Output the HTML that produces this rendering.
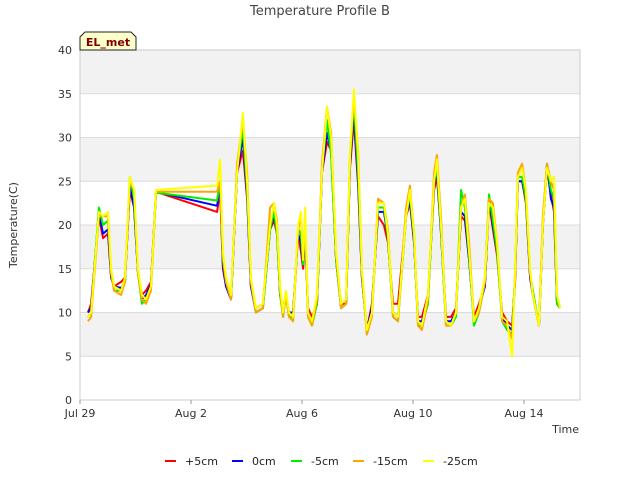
<!DOCTYPE html>
<html><head><meta charset="utf-8">
<style>
body{margin:0;background:#fff;}
svg{display:block;font-family:"DejaVu Sans","Liberation Sans",sans-serif;}
</style></head>
<body>
<svg id="chart" width="640" height="480" viewBox="0 0 640 480" xmlns="http://www.w3.org/2000/svg">
<text x="320" y="15" text-anchor="middle" font-size="13" fill="#444">Temperature Profile B</text>
<g id="bands"></g>
<g id="grid"></g>
<g id="yticks"></g>
<g id="xticks"></g>
<g id="series"></g>
<text transform="translate(17,225) rotate(-90)" text-anchor="middle" font-size="11" fill="#333">Temperature(C)</text>
<text x="579" y="433" text-anchor="end" font-size="11" fill="#333">Time</text>
<g>
<polygon points="80,50 80,37 85,32 131,32 136,37 136,50" fill="#ffffcc" stroke="#222" stroke-width="1"/>
<text x="108" y="46" text-anchor="middle" font-size="11" font-weight="bold" fill="#800000">EL_met</text>
</g>
<g id="legend"></g>
</svg>
<script>
const times = [0.29,0.40,0.68,0.83,1.01,1.12,1.23,1.48, 1.62,1.80,1.95,2.09,2.23,2.38,2.56,2.74, 4.94,5.05,5.15,5.26,5.44,5.66,5.87,6.02, 6.16,6.34,6.59,6.85,6.99,7.10,7.21,7.32, 7.42,7.53,7.68,7.86,7.96,8.04,8.11,8.22, 8.36,8.54,8.72,8.90,9.05,9.23,9.41,9.59, 9.73,9.87,10.02,10.16,10.34,10.52,10.74,10.95, 11.10,11.28,11.46,11.75,11.89,12.04,12.18,12.32, 12.54,12.76,12.86,13.01,13.19,13.37,13.55,13.73, 13.87,14.02,14.20,14.38,14.59,14.74,14.88,15.03, 15.21,15.39,15.57,15.68,15.78,15.93,16.07,16.22, 16.32,16.54,16.68,16.83,16.97,17.08,17.19,17.30];
const plus5cm = [10,11,21,18.5,19,14,13,13.5, 14,24,22,14.5,12,12.5,13.5,23.8, 21.5,24,15,13,11.5,26,28.5,23, 13,10.5,11,19.5,20.5,19,12,10.5, 12,10,10,19,17,15,18.5,10.5, 9.5,11,26,29.5,28.5,16,11,11, 26.5,32,24.5,14,8,11,21,20, 18,11,11,21,22.5,18,9.5,9.5, 12,24,25.5,19.5,9.5,9.5,10.5,21, 20.5,16,9.5,11,13,22.5,19.5,16.5, 10,9,8.5,13.5,25,25,22.5,14, 12,8.5,20,26.5,23.5,21.5,11,10.5];
const zero_cm = [10,10.5,21.5,19,19.5,14,13,12.8, 13.5,24.5,22,14.5,11.5,12,13.2,23.8, 22.2,24.5,15.5,13,11.5,26,30,23.5, 13,10,10.5,19.5,21,19.5,12,10, 12,10,10,19,18,15.5,19.5,10, 9,11,26,30.5,28.5,16,10.5,11, 27,33,25,14,8,10.5,21.5,21.5, 18.5,10,9.5,21,23,18,9,9, 11.5,25,26,19,9,9,10,21.5, 21,16,9,10.5,13,23,20,17, 9.5,8.5,8,14,25,25,23,14, 12,8.5,20,27,23,22,11,10.5];
const minus5cm = [9.5,10,22,20,20.5,14.5,12.5,12.5, 13.5,25.5,23,14.5,11,11.5,13,23.7, 22.8,25,16,13.5,11.5,26.5,31,24, 13.5,10,10.5,19.5,21.5,19,12,9.5, 12,9.5,9.5,19.5,19,15.5,20,9.5, 8.5,11,26.5,32,28,16,10.5,11, 27.5,34,26,14.5,7.5,10,22,22, 18.5,9.5,9,21,23.5,18.5,8.5,8.5, 11,25,26.5,19.5,8.5,8.5,9.5,24, 22,16.5,8.5,10,13.5,23.5,20.5,17, 9,8,7.5,14.5,25.5,25.5,23,14.5, 12.5,8.5,20.5,27,24,23,11,10.5];
const minus15cm = [9,9.5,21,21,21,14.5,12.5,12, 13.5,25,24,14.5,11.5,11,12.5,23.8, 23.8,25,16.5,13.5,11.5,27,32,26, 13.5,10,10.5,22,22.5,20.5,12.5,9.5, 12,9.5,9,19.5,21,16.5,20,9.5, 8.5,11.5,27,33.5,30.5,16.5,10.5,11, 28,34.5,28.5,14.5,7.5,9.5,23,22.5, 19.5,9.5,9,22,24.5,19,8.5,8, 11.5,26,28,21,8.5,8.5,10,22, 23.5,18,9,10,13.5,23,22.5,18, 9,8.5,7,14,26,27,24,14.5, 12,8.5,21,27,25,24,12,10.5];
const minus25cm = [9.5,10,21.5,21,21.5,15,13,12.5, 14,25.5,24,15,12,11.5,13,24, 24.5,27.5,17,14,12,26,32.8,25, 14,10.5,11,20,22.5,20,13,10, 12.5,10,9.5,20,21.5,16,22,10, 9,12,26,33.5,30,17,11,11.5, 28,35.5,28,15,8,10,22.5,22.5, 19,10,9.5,21,24,19,9,8.5, 12,25,27.5,20,9,8.5,10,22, 23,17,9,10.5,14,22.5,22,18, 9.5,9,5,15,25.5,26.5,24,15, 12,8.5,20,26.5,25,25.5,12,10.5];
const seriesNames = ["+5cm","0cm","-5cm","-15cm","-25cm"];
const yTicks = [0,5,10,15,20,25,30,35,40];
const xTickDays = [0,4,8,12,16];
const xTickLabels = ["Jul 29","Aug 2","Aug 6","Aug 10","Aug 14"];

const NS="http://www.w3.org/2000/svg";
const L=80,R=580,T=50,B=400,yMax=40,dayPx=27.75;
const xs=d=>L+d*dayPx;
const ys=v=>B-(v/yMax)*(B-T);
function mk(tag,attrs,parent){const e=document.createElementNS(NS,tag);for(const k in attrs)e.setAttribute(k,attrs[k]);parent.appendChild(e);return e;}

const bands=document.getElementById('bands');
mk('rect',{x:L,y:T,width:R-L,height:B-T,fill:'#fff'},bands);
for(let i=0;i<yTicks.length-1;i++){
  if(i%2===1){const r=mk('rect',{x:L,y:ys(yTicks[i+1]),width:R-L,height:ys(yTicks[i])-ys(yTicks[i+1]),fill:'#f2f2f2'},bands);
  
  }
}
const grid=document.getElementById('grid');
const yt=document.getElementById('yticks');
yTicks.forEach(v=>{
  const gl=mk('line',{x1:L,x2:R,y1:ys(v),y2:ys(v),stroke:'#dcdcdc','stroke-width':1},grid);
  
  
  const t=mk('text',{x:72,y:ys(v)+4,'text-anchor':'end','font-size':11,fill:'#333'},yt);
  t.textContent=v;
  
  
});
mk('rect',{x:L,y:T,width:R-L,height:B-T,fill:'none',stroke:'#ccc'},grid);
const xt=document.getElementById('xticks');
xTickDays.forEach((d,i)=>{
  mk('line',{x1:xs(d),x2:xs(d),y1:B,y2:B+4,stroke:'#999'},xt);
  const t=mk('text',{x:xs(d),y:B+17,'text-anchor':'middle','font-size':11,fill:'#333'},xt);
  t.textContent=xTickLabels[i];
  
  
});
const allSeries=[plus5cm,zero_cm,minus5cm,minus15cm,minus25cm];
const colors=['#ff0000','#0000ff','#00ee00','#ffa500','#ffff00'];
const sg=document.getElementById('series');
allSeries.forEach((vals,si)=>{
  const pts=times.map((t,i)=>xs(t).toFixed(1)+','+ys(vals[i]).toFixed(1)).join(' ');
  const p=mk('polyline',{points:pts,fill:'none',stroke:colors[si],'stroke-width':2,'stroke-linejoin':'round'},sg);
  
  
});
const lg=document.getElementById('legend');
const lgX=[165,232,291,353,423];
seriesNames.forEach((n,i)=>{
  const g=mk('g',{},lg);
  
  
  mk('line',{x1:lgX[i],x2:lgX[i]+11,y1:461,y2:461,stroke:colors[i],'stroke-width':2},g);
  const t=mk('text',{x:lgX[i]+20,y:465,'font-size':11,fill:'#222'},g);
  t.textContent=n;
});
</script>
</body></html>
